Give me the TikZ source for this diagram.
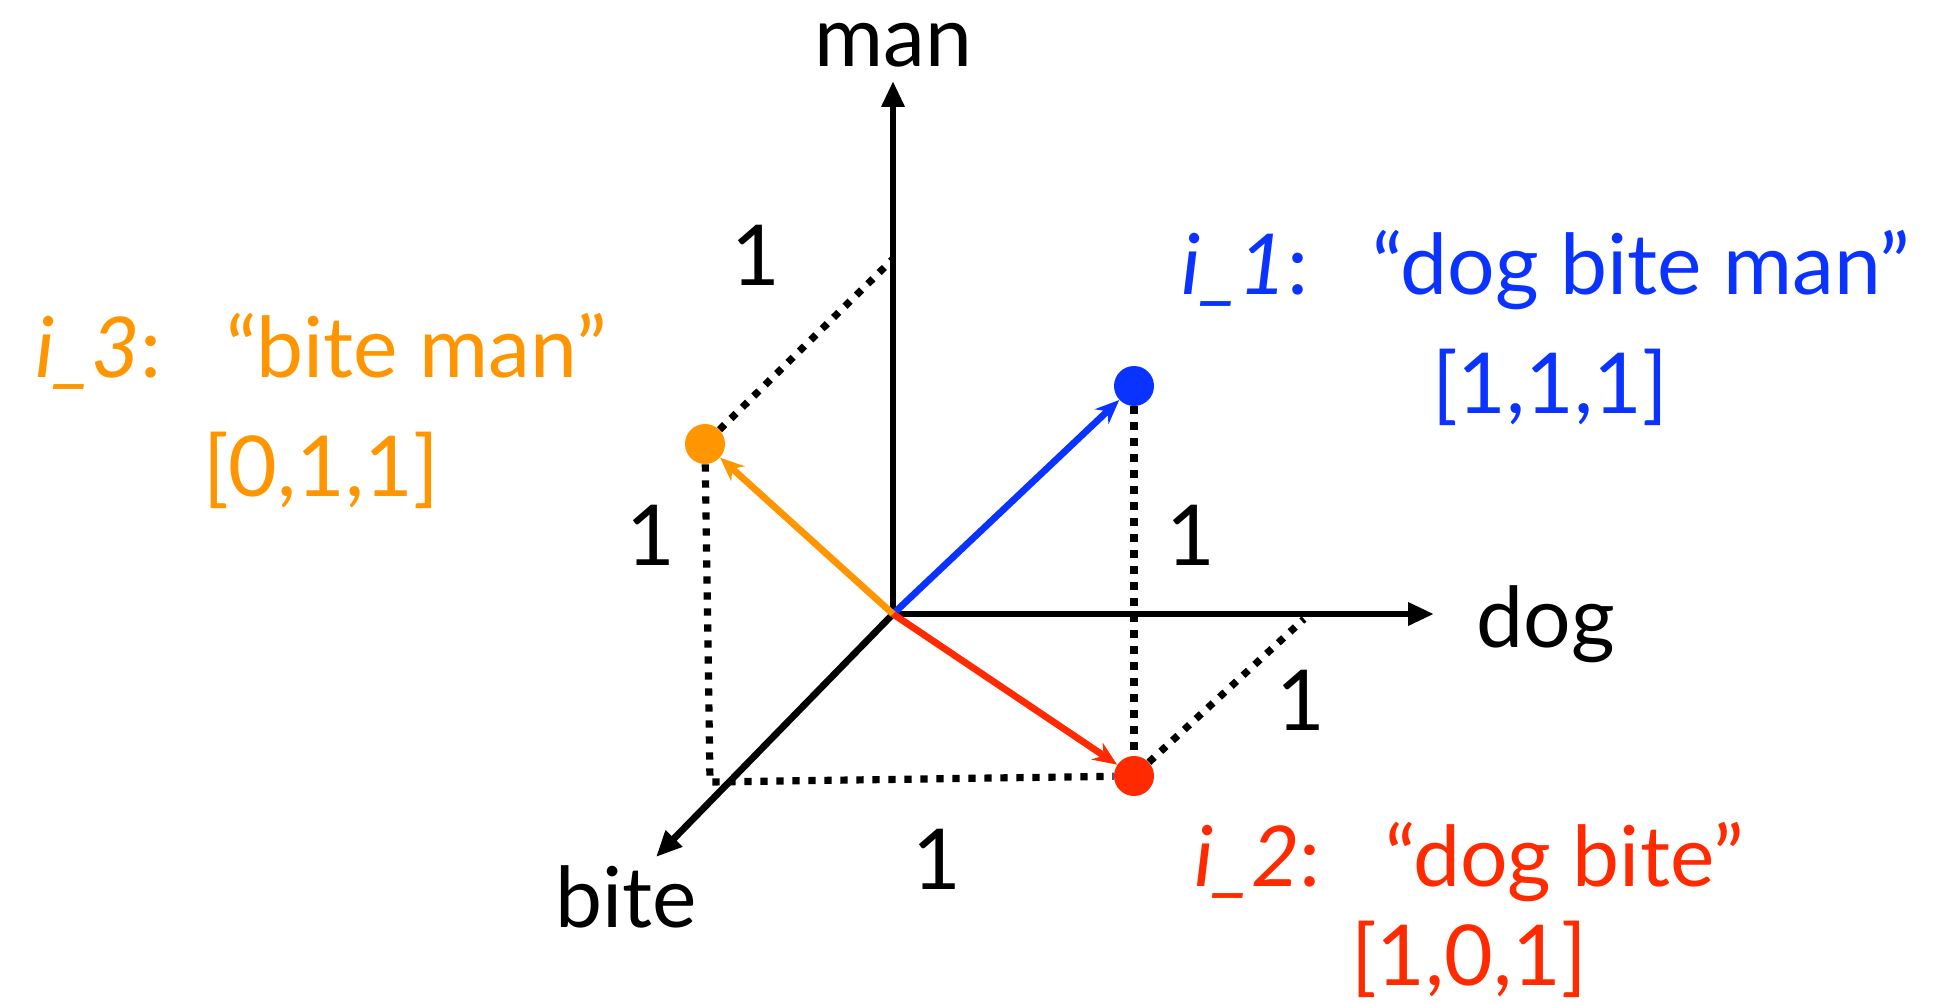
\documentclass[tikz,border=0pt]{standalone}
\usepackage{fontspec}
\setmainfont{Lato}
\usepackage{xcolor}
\usepackage{tikz}
\usetikzlibrary{arrows.meta,positioning}
\definecolor{VecBlue}{HTML}{0A33FF}
\definecolor{VecRed}{HTML}{FF2A00}
\definecolor{VecOrange}{HTML}{FF9500}

\begin{document}
\begin{tikzpicture}[x=50pt,y=50pt,
    axis/.style={draw=black,line width=3.4pt,-{Triangle[length=13pt,width=11pt]}},
    vec/.style={line width=3.4pt,-{Stealth[length=12pt,width=10pt]}},
    guide/.style={draw=black,line width=3.6pt,dash pattern=on 3.6pt off 4.4pt},
    dot/.style={circle,inner sep=0pt,minimum size=20pt},
    lbl/.style={font=\fontsize{42}{50}\selectfont,inner sep=0pt}]
  \useasboundingbox (0,0) rectangle (19.52,10.03);

  % axes
  \coordinate (O) at (8.93,3.89);
  \coordinate (manTip) at (8.93,9.22);
  \coordinate (dogTip) at (14.34,3.89);
  \coordinate (biteTip) at (6.56,1.46);
  \draw[axis] (O) -- (manTip);
  \draw[axis] (O) -- (dogTip);
  \draw[axis] (O) -- (biteTip);
  \node[lbl,anchor=base] (manLbl) at (8.93,9.36) {man};
  \node[lbl,anchor=base] (dogLbl) at (15.46,3.56) {dog};
  \node[lbl,anchor=base] (biteLbl) at (6.26,0.76) {bite};

  % points
  \node[dot,fill=VecBlue] (P1) at (11.34,6.17) {};
  \node[dot,fill=VecRed] (P2) at (11.34,2.27) {};
  \node[dot,fill=VecOrange] (P3) at (7.05,5.59) {};
  \coordinate (manOne) at (8.93,7.44);
  \coordinate (dogOne) at (13.04,3.84);
  \coordinate (biteOne) at (7.10,2.21);

  % dotted guides
  \draw[guide] (P3) -- (manOne);
  \draw[guide] (P3) -- (biteOne) -- (P2);
  \draw[guide] (P1) -- (P2);
  \draw[guide] (P2) -- (dogOne);

  % vectors
  \draw[vec,VecBlue] (O) -- (P1);
  \draw[vec,VecRed] (O) -- (P2);
  \draw[vec,VecOrange] (O) -- (P3);

  % unit marks
  \node[lbl] (oneA) at (7.56,7.48) {1};
  \node[lbl] (oneB) at (6.51,4.68) {1};
  \node[lbl] (oneC) at (11.91,4.68) {1};
  \node[lbl] (oneD) at (13.01,3.03) {1};
  \node[lbl] (oneE) at (9.37,1.44) {1};

  % captions
  \node[lbl,anchor=base,text=VecBlue] (capOne) at (15.46,7.08) {\textit{i\_1}:\ \ \ ``dog bite man''};
  \node[lbl,anchor=base,text=VecBlue] (vecOne) at (15.50,5.90) {[1,1,1]};
  \node[lbl,anchor=base,text=VecOrange] (capThree) at (3.21,6.26) {\textit{i\_3}:\ \ \ ``bite man''};
  \node[lbl,anchor=base,text=VecOrange] (vecThree) at (3.21,5.07) {[0,1,1]};
  \node[lbl,anchor=base,text=VecRed] (capTwo) at (14.69,1.17) {\textit{i\_2}:\ \ \ ``dog bite''};
  \node[lbl,anchor=base,text=VecRed] (vecTwo) at (14.69,0.18) {[1,0,1]};
\end{tikzpicture}
\end{document}
